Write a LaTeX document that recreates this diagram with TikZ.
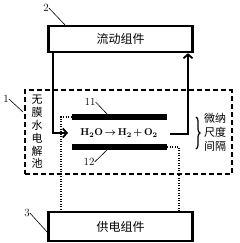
\documentclass[tikz,border=0pt]{standalone}
\usepackage{amsmath}
\usepackage{fontspec}
\newfontfamily\cjk{Noto Sans CJK SC}
\usetikzlibrary{arrows.meta,decorations.pathreplacing}
\begin{document}
\begin{tikzpicture}[x=1pt,y=-1pt,
  box/.style={draw,line width=2.2pt,minimum width=144pt,inner sep=0pt,
    font={\cjk\fontsize{12}{12}\selectfont}},
  cellbox/.style={draw,dash pattern=on 5pt off 3pt,line width=2pt,
    minimum width=207pt,minimum height=83pt,inner sep=0pt},
  electrode/.style={fill,minimum width=95pt,minimum height=5.5pt,inner sep=0pt},
  flowline/.style={line width=2.2pt,-{Straight Barb[length=4pt,width=9pt,line width=1.8pt]}},
  dotline/.style={line width=2pt,dash pattern=on 1.2pt off 1.3pt},
  leader/.style={line width=0.6pt},
  num/.style={inner sep=0pt,font={\fontsize{11}{11}\selectfont}},
  eqtext/.style={inner sep=0pt,font={\fontsize{10}{10}\selectfont\bfseries}},
  cjktext/.style={inner sep=0pt,align=center,font={\cjk\fontsize{11}{12.8}\selectfont}}]
\useasboundingbox (0,0) rectangle (239,243);
\fill[white] (0,0) rectangle (239,243);
\node[box,minimum height=26pt] (flow) at (120.5,39) {流动组件};
\node[box,minimum height=29pt] (power) at (120.5,226.5) {供电组件};
\node[cellbox] (cell) at (128,132) {};
\node[electrode] (e11) at (119.5,117) {};
\node[electrode] (e12) at (119.5,147) {};
\node[eqtext] (eq) at (119,133) {H\textsubscript{2}O\,$\boldsymbol{\rightarrow}$\,H\textsubscript{2}\,+\,O\textsubscript{2}};
\coordinate (inL) at (68,133);
\coordinate (outR) at (170,134);
\draw[flowline] ([xshift=-67.5pt]flow.south) |- (inL);
\draw[flowline] (outR) -| ([xshift=67.5pt]flow.south);
\draw[dotline] (e11.west) -| ([xshift=-59.5pt]power.north);
\draw[dotline] (e12.east) -| ([xshift=58.5pt]power.north);
\coordinate (bt) at (196,117);
\coordinate (bb) at (196,149);
\draw[line width=1.2pt,decorate,decoration={brace,amplitude=4pt}] (bt) -- (bb);
\node[cjktext,font={\cjk\fontsize{11}{14}\selectfont}] (gap) at (215,132) {微纳\\尺度\\间隔};
\node[cjktext] (celltxt) at (37,132) {无\\膜\\水\\电\\解\\池};
\node[num] (n1) at (6,99) {1};
\coordinate (p1) at (23,112);
\draw[leader] (n1.east) -- (p1);
\node[num] (n2) at (46,8) {2};
\coordinate (p2) at (66,26);
\draw[leader] (n2.east) -- (p2);
\node[num] (n3) at (27,213) {3};
\coordinate (p3) at (48,233);
\draw[leader] (n3.east) -- (p3);
\node[num] (n11) at (90,102) {11};
\coordinate (p11) at (108,115);
\draw[leader] (n11.east) -- (p11);
\node[num] (n12) at (89,162) {12};
\coordinate (p12) at (108,149);
\draw[leader] (n12.east) -- (p12);
\end{tikzpicture}
\end{document}
